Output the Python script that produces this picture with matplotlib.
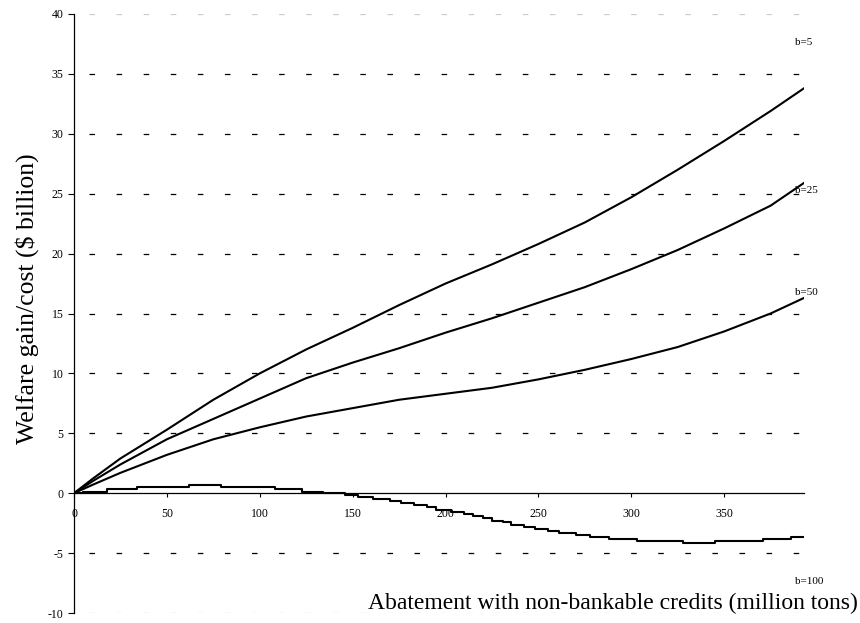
import matplotlib
matplotlib.use('Agg')
import matplotlib.pyplot as plt
import numpy as np

plt.rcParams['font.family'] = ['Liberation Serif', 'DejaVu Serif']
plt.rcParams['lines.scale_dashes'] = False
plt.rcParams['axes.unicode_minus'] = False

# welfare gain/cost curves
x_smooth = [0, 10, 25, 50, 75, 100, 125, 150, 175, 200, 225, 250, 275, 300, 325, 350, 375, 393]
b5 = [0, 1.2, 2.9, 5.3, 7.8, 10.0, 12.0, 13.8, 15.7, 17.5, 19.1, 20.8, 22.6, 24.7, 27.0, 29.4, 31.9, 33.8]
b25 = [0, 1.0, 2.4, 4.5, 6.2, 7.9, 9.6, 10.9, 12.1, 13.4, 14.6, 15.9, 17.2, 18.7, 20.3, 22.1, 24.0, 25.9]
b50 = [0, 0.7, 1.7, 3.2, 4.5, 5.5, 6.4, 7.1, 7.8, 8.3, 8.8, 9.5, 10.3, 11.2, 12.2, 13.5, 15.0, 16.3]

# b=100 is a staircase
x_b100 = [0, 5, 18, 34, 62, 79, 108, 123, 134, 146, 153, 161, 170, 176, 183, 190, 195, 203,
          210, 215, 220, 225, 231, 235, 242, 248, 255, 261, 270, 278, 288, 303, 328, 345,
          371, 386, 393]
b100 = [0.0, 0.08, 0.33, 0.5, 0.67, 0.5, 0.33, 0.12, 0.0, -0.14, -0.33, -0.5, -0.69, -0.83,
        -1.0, -1.19, -1.39, -1.56, -1.75, -1.94, -2.11, -2.28, -2.44, -2.64, -2.81, -3.0,
        -3.17, -3.33, -3.5, -3.67, -3.83, -3.97, -4.17, -3.97, -3.83, -3.67, -3.67]

labels = ['b=5', 'b=25', 'b=50', 'b=100']
label_y = [37.6, 25.3, 16.75, -7.35]

yticks = [-10, -5, 0, 5, 10, 15, 20, 25, 30, 35, 40]
xticks = [0, 50, 100, 150, 200, 250, 300, 350]

fig = plt.figure(figsize=(8.6, 6.23), dpi=100)
ax = fig.add_axes([74/860, 10/623, 730/860, 599/623])

# dashed horizontal grid (outer ones come out pale in the original)
for yv in yticks:
    if yv == 0:
        continue
    col = '#cccccc' if yv in (40, -10) else 'black'
    ax.hlines(yv, 8, 391, colors=col, lw=0.9, linestyles=(0, (4, 15.5)), zorder=1)

ax.plot(x_smooth, b5, color='black', lw=1.5, zorder=3)
ax.plot(x_smooth, b25, color='black', lw=1.5, zorder=3)
ax.plot(x_smooth, b50, color='black', lw=1.5, zorder=3)
ax.step(x_b100, b100, where='post', color='black', lw=1.5, zorder=3)

for lab, yv in zip(labels, label_y):
    ax.text(388, yv, lab, fontsize=8, ha='left', va='center', clip_on=False)

ax.set_xlim(0, 393)
ax.set_ylim(-10, 40)
ax.spines['top'].set_visible(False)
ax.spines['right'].set_visible(False)
ax.spines['bottom'].set_position(('data', 0))
ax.spines['left'].set_linewidth(0.9)
ax.spines['bottom'].set_linewidth(0.9)

ax.set_xticks(xticks)
ax.set_yticks(yticks)
ax.tick_params(axis='x', direction='out', length=3, width=0.8, pad=8, labelsize=8.5)
ax.tick_params(axis='y', direction='out', length=4.5, width=0.8, pad=3, labelsize=8.5)

fig.text(27/860, 1 - 299/623, 'Welfare gain/cost ($ billion)', rotation=90,
         ha='center', va='center', fontsize=18.5)
fig.text(858/860, 1 - 603/623, 'Abatement with non-bankable credits (million tons)',
         ha='right', va='center', fontsize=17)

fig.savefig('out.png', dpi=100)
